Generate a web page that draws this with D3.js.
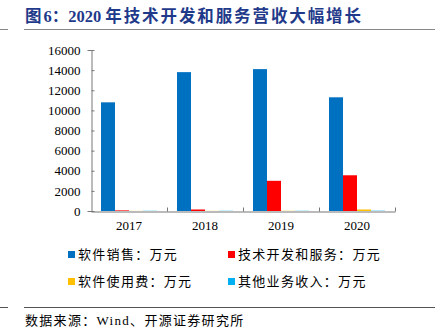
<!DOCTYPE html>
<html><head><meta charset="utf-8">
<script src="https://cdn.jsdelivr.net/npm/d3@7"></script>
<style>body{margin:0;background:#fff}svg{display:block}</style>
</head><body>
<script>
const years = ["2017","2018","2019","2020"];
const seriesNames = ["软件销售：万元","技术开发和服务：万元","软件使用费：万元","其他业务收入：万元"];
const softwareSales = [10800, 13800, 14100, 11300];
const techServices = [60, 150, 3000, 3550];
const softwareFees = [10, 10, 20, 150];
const otherIncome = [20, 20, 20, 30];
const yTicks = [0,2000,4000,6000,8000,10000,12000,14000,16000];
const colors = ["#0070C0","#FF0000","#FFC000","#00B0F0"];

const seriesValues = [softwareSales, techServices, softwareFees, otherIncome];
const W = 435, H = 335;
const svg = d3.select("body").append("svg").attr("width", W).attr("height", H);

const serif = "'Liberation Serif','Times New Roman',serif";

// title
svg.append("text").attr("x", 25).attr("y", 22)
  .attr("font-weight", "bold").attr("font-size", 16.5).attr("fill", "#1F3A8A")
  .html("<tspan font-family=\"'Noto Sans CJK SC',sans-serif\" letter-spacing=\"1.9\">图</tspan><tspan font-family=\"'Liberation Serif',serif\">6</tspan><tspan font-family=\"'Noto Sans CJK SC',sans-serif\">：</tspan><tspan font-family=\"'Liberation Serif',serif\">2020 </tspan><tspan font-family=\"'Noto Sans CJK SC',sans-serif\" letter-spacing=\"1.9\">年技术开发和服务营收大幅增长</tspan>");
svg.append("line").attr("x1",24).attr("x2",435).attr("y1",29.5).attr("y2",29.5).attr("stroke","#888").attr("stroke-width",1);
svg.append("line").attr("x1",0).attr("x2",8).attr("y1",29.5).attr("y2",29.5).attr("stroke","#888").attr("stroke-width",1);

const x = d3.scaleBand().domain(years).range([91, 395]).paddingInner(0).paddingOuter(0);
const y = d3.scaleLinear().domain([0, 16000]).range([211, 50]);
const inner = d3.scaleBand().domain(d3.range(4)).range([10, x.bandwidth() - 10]);

const g = svg.append("g");
years.forEach((yr, i) => {
  seriesValues.forEach((vals, s) => {
    g.append("rect")
      .attr("x", x(yr) + inner(s))
      .attr("width", inner.bandwidth())
      .attr("y", y(vals[i]))
      .attr("height", y(0) - y(vals[i]))
      .attr("fill", colors[s]);
  });
});

// y axis
const yAxis = d3.axisLeft(y).tickValues(yTicks).tickSize(4).tickFormat(d3.format("d"));
const ya = svg.append("g").attr("transform", "translate(91.5,0)").call(yAxis);
ya.selectAll("text").attr("font-family", serif).attr("font-size", 13).attr("fill", "#000").attr("x", -11);
ya.select(".domain").attr("stroke", "#777");
ya.selectAll(".tick line").attr("stroke", "#777").attr("x2", 3);

// x axis
const xa = svg.append("g").attr("transform", "translate(0,211.5)").call(d3.axisBottom(x).tickSize(0).tickSizeOuter(0));
xa.select(".domain").attr("stroke", "#777");
xa.selectAll("text").attr("font-family", serif).attr("font-size", 13).attr("fill", "#000").attr("dy", "1.2em");
const bounds = years.map(yr => x(yr) + x.bandwidth());
xa.selectAll(".sep").data(bounds).enter().append("line")
  .attr("x1", d => d + 0.5).attr("x2", d => d + 0.5).attr("y1", 0).attr("y2", -4).attr("stroke", "#777");

// legend
const legPos = [[68, 258],[228, 258],[68, 285],[228, 285]];
seriesNames.forEach((n, i) => {
  const [lx, ly] = legPos[i];
  svg.append("rect").attr("x", lx).attr("y", ly - 7).attr("width", 7).attr("height", 7).attr("fill", colors[i]);
  svg.append("text").attr("x", lx + 10).attr("y", ly + 1)
    .attr("font-family", "'Noto Sans CJK SC',sans-serif").attr("font-size", 13)
    .attr("letter-spacing", 1.3).attr("fill", "#000").text(n);
});

svg.append("line").attr("x1",24).attr("x2",435).attr("y1",307.5).attr("y2",307.5).attr("stroke","#555").attr("stroke-width",1);
svg.append("line").attr("x1",0).attr("x2",8).attr("y1",307.5).attr("y2",307.5).attr("stroke","#555").attr("stroke-width",1);
svg.append("text").attr("x", 25).attr("y", 325)
  .attr("font-size", 13).attr("fill", "#000").attr("letter-spacing", 1.3)
  .html("<tspan font-family=\"'Noto Sans CJK SC',sans-serif\">数据来源：</tspan><tspan font-family=\"'Liberation Serif',serif\">Wind</tspan><tspan font-family=\"'Noto Sans CJK SC',sans-serif\">、开源证券研究所</tspan>");
</script>
</body></html>
